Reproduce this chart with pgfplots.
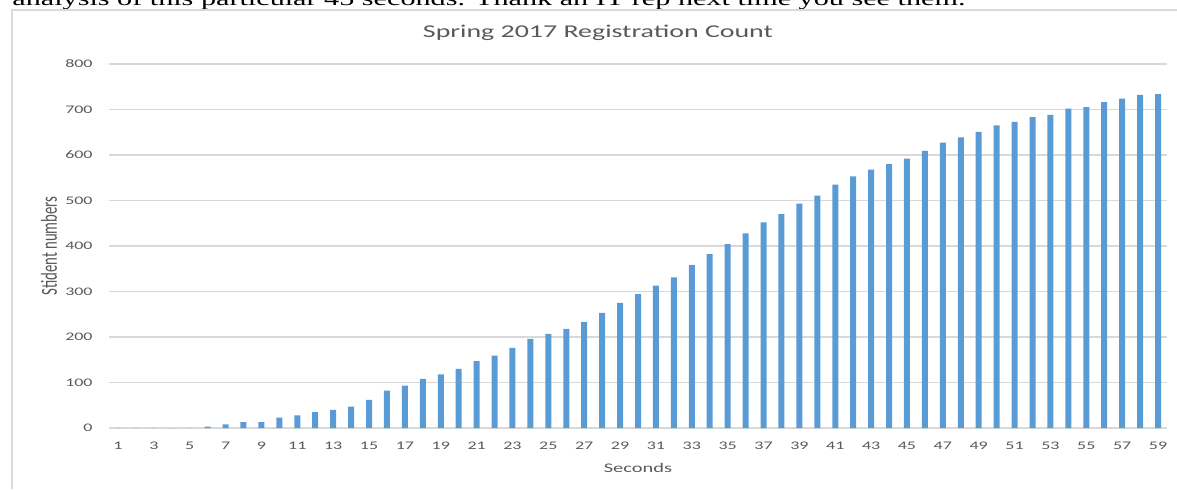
\documentclass[border=0pt]{standalone}
\usepackage{fontspec}
\setmainfont{Carlito}[FakeStretch=1.55]
\newfontfamily\plainfont{Carlito}
\newfontfamily\docserif{Liberation Serif}[FakeStretch=1.55]
\usepackage{pgfplots}
\usepackage{graphicx}
\pgfplotsset{compat=1.18}
\definecolor{barblue}{HTML}{5B9BD5}
\definecolor{gridgray}{HTML}{D9D9D9}
\definecolor{txtgray}{HTML}{595959}
\pgfplotstableread{
x y
1 0
2 0
3 0
4 0
5 0
6 3
7 8
8 13
9 13
10 23
11 28
12 35
13 40
14 47
15 62
16 82
17 93
18 108
19 118
20 130
21 147
22 159
23 176
24 196
25 207
26 218
27 233
28 253
29 275
30 294
31 313
32 331
33 358
34 382
35 404
36 428
37 452
38 470
39 493
40 511
41 535
42 553
43 568
44 580
45 592
46 609
47 627
48 639
49 651
50 665
51 673
52 683
53 688
54 702
55 705
56 716
57 724
58 732
59 734
}\regdata
\begin{document}
\begin{tikzpicture}
\useasboundingbox (0,0) rectangle (588.5pt,244.5pt);
\clip (0,0) rectangle (588.5pt,244.5pt);
\node[anchor=base west, inner sep=0pt] at (6pt,241.85pt) {\resizebox{476.5pt}{1.1\height}{\docserif\fontsize{9}{11}\selectfont analysis of this particular 45 seconds. Thank an IT rep next time you see them.}};
\draw[gridgray, line width=0.6pt] (6pt,0) -- (6pt,239.5pt) -- (588.5pt,239.5pt);
\begin{axis}[
  at={(54.5pt,30.5pt)}, anchor=south west,
  scale only axis, width=529pt, height=182pt,
  xmin=0.5, xmax=59.5, ymin=0, ymax=800,
  clip=false,
  xtick={1,3,...,59}, ytick={0,100,...,800},
  ybar, bar width=3pt,
  axis line style={draw=none},
  major tick length=0pt, tick style={draw=none},
  ymajorgrids, grid style={draw=gridgray, line width=0.6pt},
  /pgf/number format/assume math mode=true,
  ticklabel style={font=\fontsize{5.8}{7}\selectfont, text=txtgray},
  yticklabel style={inner sep=0pt, xshift=-8pt},
  xticklabel style={inner sep=0pt, yshift=-7pt},
  xlabel={Seconds},
  xlabel style={at={(axis description cs:0.5,-0.1099)}, anchor=center, font=\fontsize{6.6}{8}\selectfont, text=txtgray, inner sep=0pt},
  ylabel={\scalebox{1}[1.55]{\plainfont\fontsize{7.4}{9}\selectfont Stident numbers}},
  ylabel style={at={(axis description cs:-0.0567,0.5)}, anchor=center, text=txtgray, inner sep=0pt},
]
\addplot[fill=barblue, draw=none] table[x=x, y=y] {\regdata};
\node[anchor=center, inner sep=0pt, text=txtgray, font=\fontsize{9}{11}\selectfont] at (axis description cs:0.4622,1.0852) {Spring 2017 Registration Count};
\end{axis}
\end{tikzpicture}
\end{document}
